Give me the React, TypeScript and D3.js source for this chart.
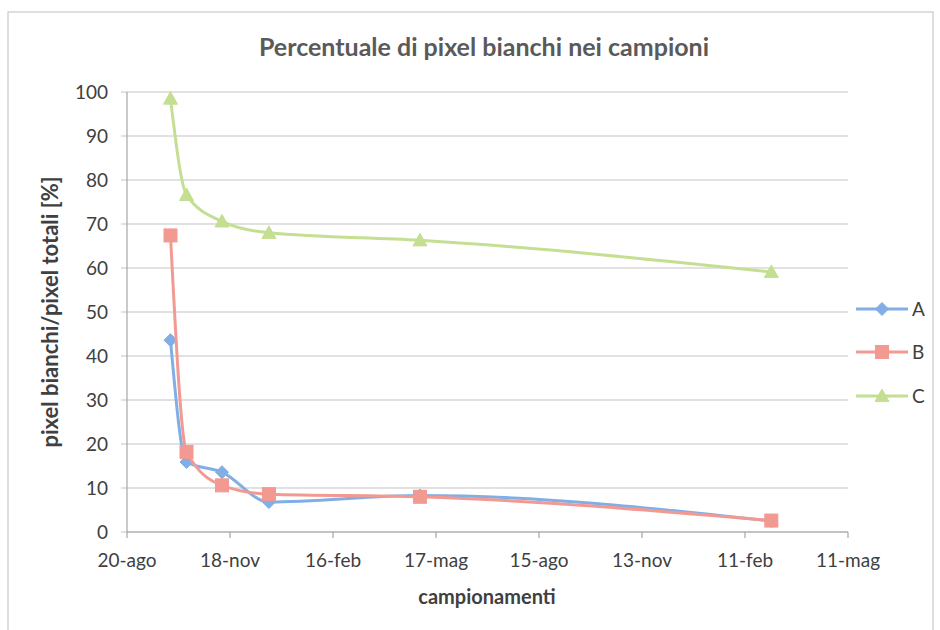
import React from "react";
import * as d3 from "d3";

const sampleDates = ["2010-09-27", "2010-10-11", "2010-11-11", "2010-12-22", "2011-05-03", "2012-03-05"];
const seriesA = [43.6, 15.9, 13.6, 6.8, 8.3, 2.5];
const seriesB = [67.4, 18.2, 10.6, 8.6, 8.0, 2.6];
const seriesC = [98.5, 76.6, 70.6, 68.0, 66.3, 59.1];
const seriesNames = ["A", "B", "C"];
const xTickLabels = ["20-ago", "18-nov", "16-feb", "17-mag", "15-ago", "13-nov", "11-feb", "11-mag"];
const yTicks = [0, 10, 20, 30, 40, 50, 60, 70, 80, 90, 100];
const axisStart = "2010-08-20";
const tickStepDays = 90;

const colors = { A: "#82aee6", B: "#f29a92", C: "#c4df92" };
const font = "Lato, 'Open Sans', sans-serif";

const W = 940, H = 630;
const plot = { left: 127, right: 848, top: 92, bottom: 532 };

function parse(s: string) {
  return d3.timeParse("%Y-%m-%d")(s) as Date;
}

function marker(name: string, x: number, y: number, key?: string) {
  const c = (colors as any)[name];
  if (name === "A") {
    const s = 6.5;
    return <path key={key} d={`M${x},${y - s}L${x + s},${y}L${x},${y + s}L${x - s},${y}Z`} fill={c} stroke={c} />;
  }
  if (name === "B") {
    return <rect key={key} x={x - 6.5} y={y - 6.5} width={13} height={13} fill={c} stroke={c} />;
  }
  const s = 7;
  return <path key={key} d={`M${x},${y - s}L${x + s},${y + s * 0.8}L${x - s},${y + s * 0.8}Z`} fill={c} stroke={c} />;
}

export default function App() {
  const start = parse(axisStart);
  const ticks = xTickLabels.map((_, i) => d3.timeDay.offset(start, i * tickStepDays));
  const x = d3.scaleTime().domain([ticks[0], ticks[ticks.length - 1]]).range([plot.left, plot.right]);
  const y = d3.scaleLinear().domain([0, 100]).range([plot.bottom, plot.top]);
  const dates = sampleDates.map(parse);
  const all = { A: seriesA, B: seriesB, C: seriesC } as Record<string, number[]>;
  const line = d3
    .line<[Date, number]>()
    .x((d) => x(d[0]))
    .y((d) => y(d[1]))
    .curve(d3.curveMonotoneX);

  const legendY = [309, 352, 396];

  return (
    <div style={{ position: "fixed", left: 0, top: 0 }}>
      <svg width={W} height={H} style={{ display: "block", background: "#fff" }} fontFamily={font}>
        <rect x={8} y={12} width={925} height={H} fill="#fff" stroke="#c8c8c8" strokeWidth={1.2} />
        <text x={484} y={56} textAnchor="middle" fontSize={25} fontWeight={700} fill="#5a5a5a">
          Percentuale di pixel bianchi nei campioni
        </text>
        {yTicks.map((t) => (
          <g key={t}>
            <line x1={plot.left - 6} x2={plot.right} y1={y(t)} y2={y(t)} stroke="#c4c4c4" strokeWidth={1.2} />
            <text x={108} y={y(t)} dy="0.35em" textAnchor="end" fontSize={19} fill="#404040">
              {t}
            </text>
          </g>
        ))}
        <line x1={plot.left} x2={plot.left} y1={plot.top} y2={plot.bottom} stroke="#a6a6a6" strokeWidth={1.2} />
        <line x1={plot.left} x2={plot.right} y1={plot.bottom} y2={plot.bottom} stroke="#a6a6a6" strokeWidth={1.2} />
        {ticks.map((t, i) => (
          <g key={i}>
            <line x1={x(t)} x2={x(t)} y1={plot.bottom} y2={plot.bottom + 6} stroke="#a6a6a6" strokeWidth={1.2} />
            <text x={x(t)} y={567} textAnchor="middle" fontSize={19} fill="#404040">
              {xTickLabels[i]}
            </text>
          </g>
        ))}
        <text x={487} y={604} textAnchor="middle" fontSize={20} fontWeight={700} fill="#404040">
          campionamenti
        </text>
        <text
          transform={`translate(58,${(plot.top + plot.bottom) / 2}) rotate(-90)`}
          textAnchor="middle"
          fontSize={22}
          fontWeight={700}
          fill="#404040"
        >
          pixel bianchi/pixel totali [%]
        </text>
        {seriesNames.map((n) => {
          const pts = dates.map((d, i) => [d, all[n][i]] as [Date, number]);
          return (
            <g key={n}>
              <path d={line(pts) || ""} fill="none" stroke={(colors as any)[n]} strokeWidth={3} />
              {pts.map((p, i) => marker(n, x(p[0]), y(p[1]), n + i))}
            </g>
          );
        })}
        {seriesNames.map((n, i) => (
          <g key={"lg" + n}>
            <line x1={856} x2={908} y1={legendY[i]} y2={legendY[i]} stroke={(colors as any)[n]} strokeWidth={3} />
            {marker(n, 882, legendY[i])}
            <text x={912} y={legendY[i]} dy="0.35em" fontSize={19} fill="#404040">
              {n}
            </text>
          </g>
        ))}
      </svg>
    </div>
  );
}
